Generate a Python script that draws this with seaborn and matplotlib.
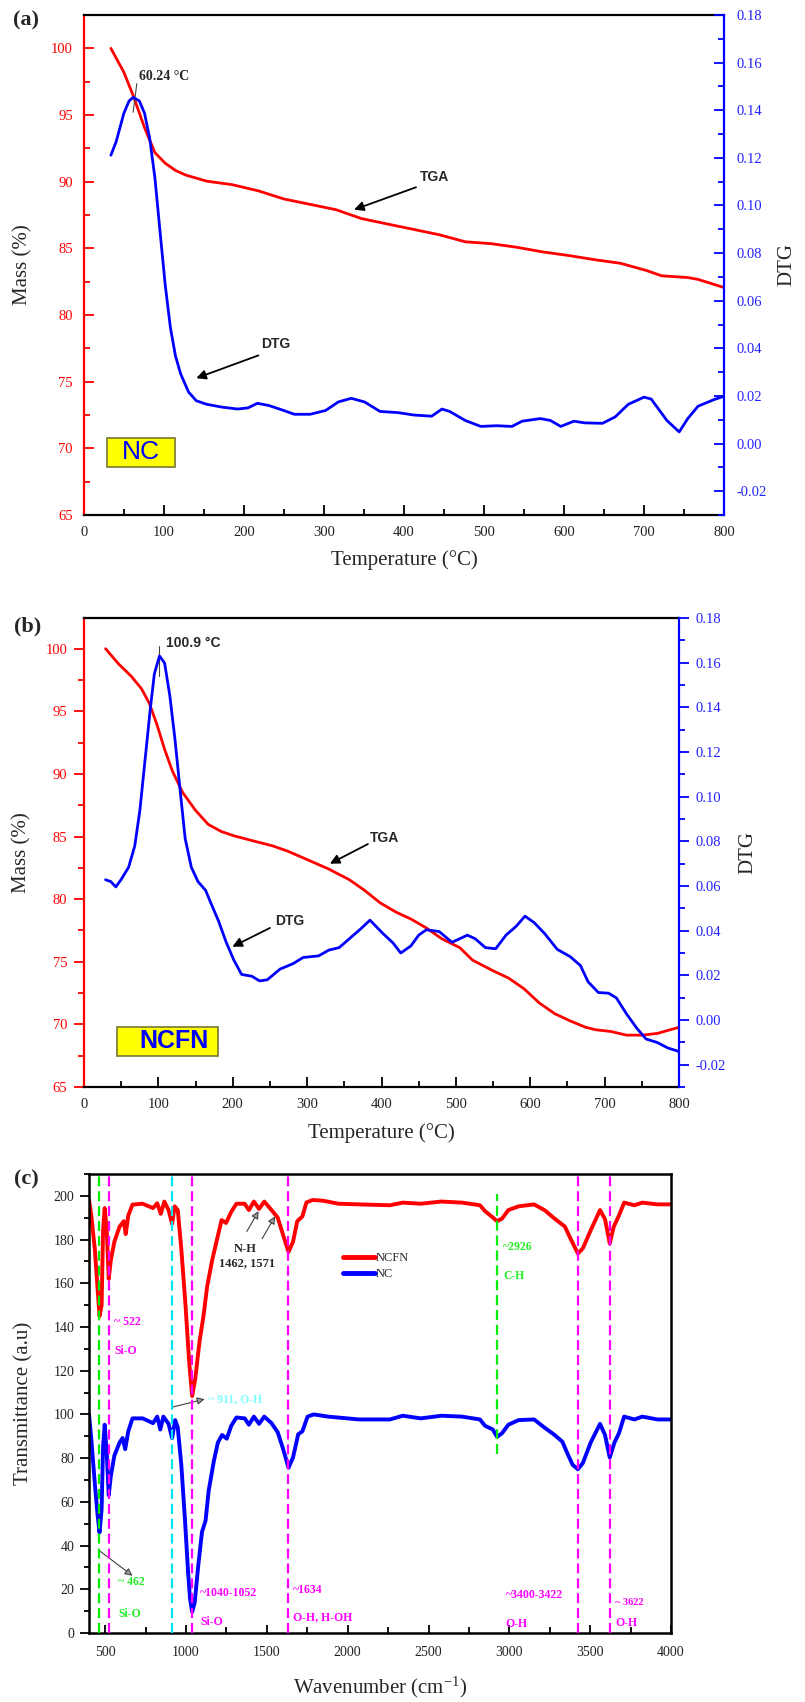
import matplotlib
matplotlib.use("Agg")
import matplotlib.pyplot as plt
import seaborn as sns
from matplotlib.ticker import MultipleLocator, FormatStrFormatter
from matplotlib.patches import Rectangle

# ---------------- data: panel (a) NC ----------------
a_temp_tga = [33.6, 49.8, 61.4, 75.7, 88.6, 101.5, 114.4, 127.4, 153.3, 185.6, 218, 250, 282.5, 314.8,
              347, 379.6, 412, 444, 476.6, 509, 541, 573.5, 606, 638, 670.5, 703, 722, 754.7, 767.6, 800]
a_mass_tga = [100, 98.21, 96.47, 94.05, 92.18, 91.38, 90.84, 90.49, 90.04, 89.77, 89.31, 88.70, 88.30, 87.90,
              87.23, 86.82, 86.42, 86.02, 85.49, 85.35, 85.08, 84.73, 84.46, 84.15, 83.88, 83.34, 82.94, 82.81,
              82.67, 82.06]
a_temp_dtg = [33.6, 40.1, 49.8, 56.3, 61.4, 69.2, 75.7, 82.1, 88.6, 95.0, 101.5, 108.0, 114.4, 120.9, 130.6,
              140.3, 153.3, 172.7, 192.0, 205.0, 216.7, 231.0, 247.0, 263.0, 282.6, 302.0, 318.0, 334.0, 350.6,
              370.0, 392.6, 412.0, 434.6, 447.5, 457.0, 476.6, 496.0, 515.5, 535.0, 547.6, 570.4, 583.0, 596.0,
              612.4, 625.4, 648.0, 664.0, 680.4, 700.0, 709.0, 728.6, 744.0, 754.7, 767.6, 787.0, 800.0]
a_dtg = [0.1211, 0.1267, 0.1387, 0.1439, 0.1454, 0.1439, 0.1387, 0.1282, 0.1117, 0.0892, 0.0667, 0.0487,
         0.0367, 0.0292, 0.0217, 0.0180, 0.0165, 0.0153, 0.0145, 0.0150, 0.0169, 0.0160, 0.0142, 0.0123,
         0.0123, 0.0139, 0.0175, 0.0190, 0.0175, 0.0135, 0.0130, 0.0120, 0.0115, 0.0145, 0.0135, 0.0097,
         0.0072, 0.0075, 0.0072, 0.0094, 0.0105, 0.0097, 0.0072, 0.0094, 0.0087, 0.0085, 0.0112, 0.0165,
         0.0195, 0.0187, 0.0097, 0.0049, 0.0105, 0.0157, 0.0184, 0.0199]

# ---------------- data: panel (b) NCFN ----------------
b_temp_tga = [29.0, 46.2, 63.5, 77.3, 87.7, 98.0, 108.4, 118.7, 132.5, 149.8, 167.0, 184.6, 201.5, 225.7,
              253.3, 274.0, 301.6, 329.2, 356.8, 377.5, 398.3, 419.0, 439.6, 460.3, 481.0, 505.2, 522.4, 550.0,
              570.8, 591.5, 612.2, 633.0, 653.6, 674.4, 688.0, 708.8, 729.5, 750.3, 771.0, 800.0]
b_mass_tga = [100.0, 98.8, 97.8, 96.8, 95.66, 93.95, 91.96, 90.25, 88.53, 87.1, 85.97, 85.4, 85.06, 84.68,
              84.26, 83.83, 83.12, 82.4, 81.55, 80.69, 79.7, 78.98, 78.41, 77.7, 76.84, 76.13, 75.13, 74.28,
              73.7, 72.85, 71.71, 70.85, 70.28, 69.77, 69.57, 69.43, 69.14, 69.14, 69.28, 69.77]
b_temp_dtg = [29.0, 35.9, 42.8, 49.7, 60.0, 68.3, 75.2, 82.1, 89.0, 94.6, 101.5, 108.4, 115.3, 122.2, 129.0,
              136.0, 144.3, 153.2, 163.6, 170.5, 180.8, 191.2, 201.5, 211.9, 225.7, 236.0, 246.4, 263.6, 280.9,
              294.7, 315.4, 329.2, 343.0, 356.8, 370.7, 384.5, 401.7, 415.5, 425.9, 439.6, 450.0, 460.3, 477.6,
              494.8, 505.2, 515.5, 525.9, 539.7, 553.5, 567.4, 581.2, 592.9, 605.3, 619.1, 636.4, 653.6, 667.4,
              677.8, 691.6, 705.4, 715.8, 729.5, 743.3, 755.7, 771.0, 784.8, 800.0]
b_dtg = [0.0628, 0.0620, 0.0596, 0.0628, 0.0684, 0.0780, 0.0941, 0.1165, 0.1389, 0.1550, 0.1630, 0.1598,
         0.1454, 0.1261, 0.1037, 0.0813, 0.0684, 0.0620, 0.0580, 0.0524, 0.0444, 0.0348, 0.0268, 0.0204,
         0.0196, 0.0175, 0.0180, 0.0228, 0.0252, 0.0280, 0.0287, 0.0313, 0.0324, 0.0364, 0.0404, 0.0447,
         0.0388, 0.0345, 0.0300, 0.0332, 0.0380, 0.0404, 0.0396, 0.0348, 0.0364, 0.0380, 0.0364, 0.0324,
         0.0319, 0.0380, 0.0420, 0.0465, 0.0436, 0.0388, 0.0316, 0.0284, 0.0244, 0.0171, 0.0123, 0.0120,
         0.0099, 0.0027, -0.0037, -0.0085, -0.0101, -0.0125, -0.0141]

# ---------------- data: panel (c) FTIR ----------------
c_wn_ncfn = [400, 414, 436, 452, 465, 478, 487, 497, 510, 522, 535, 557, 589, 615, 627, 643, 669, 732, 796, 822,
             844, 866, 892, 914, 930, 949, 971, 997, 1019, 1038, 1057, 1083, 1108, 1131, 1162, 1194, 1220, 1248,
             1280, 1312, 1363, 1389, 1420, 1452, 1484, 1529, 1567, 1599, 1634, 1662, 1688, 1720, 1745, 1783,
             1847, 1943, 2070, 2261, 2341, 2452, 2580, 2707, 2818, 2850, 2898, 2924, 2955, 2994, 3057, 3153,
             3217, 3280, 3344, 3376, 3424, 3455, 3503, 3561, 3592, 3621, 3646, 3678, 3710, 3774, 3822, 3917, 4000]
c_tr_ncfn = [198.1, 191.0, 175.7, 158.6, 145.0, 150.0, 184.0, 194.4, 184.0, 162.0, 170.6, 179.0, 185.9, 188.4,
             182.5, 191.0, 196.0, 196.4, 194.4, 196.6, 191.8, 197.4, 193.5, 187.2, 195.2, 193.5, 175.7, 150.0,
             124.6, 108.4, 116.1, 133.1, 145.0, 158.6, 170.6, 180.8, 188.9, 187.6, 192.7, 196.4, 196.4, 193.5,
             197.4, 194.0, 197.4, 193.5, 190.1, 182.5, 174.3, 179.0, 188.4, 190.6, 197.0, 198.1, 197.8, 196.4,
             196.1, 195.7, 196.9, 196.4, 197.4, 196.9, 195.7, 193.0, 190.1, 188.4, 189.6, 193.5, 195.2, 196.1,
             193.5, 189.6, 185.9, 180.8, 173.6, 176.0, 184.2, 193.5, 189.3, 178.2, 185.9, 191.0, 196.9, 195.7,
             196.9, 196.1, 196.1]
c_wn_nc = [400, 414, 436, 452, 465, 478, 487, 497, 510, 522, 535, 557, 589, 608, 624, 643, 669, 732, 796, 822,
           841, 860, 892, 914, 933, 949, 971, 994, 1013, 1025, 1038, 1054, 1076, 1099, 1121, 1140, 1172, 1197,
           1223, 1252, 1280, 1312, 1363, 1389, 1420, 1452, 1484, 1529, 1567, 1599, 1634, 1662, 1694, 1720,
           1752, 1790, 1879, 2070, 2261, 2341, 2452, 2580, 2707, 2818, 2850, 2898, 2924, 2955, 2994, 3057,
           3153, 3217, 3280, 3328, 3360, 3392, 3424, 3455, 3503, 3561, 3592, 3621, 3650, 3678, 3710, 3774,
           3822, 3917, 4000]
c_tr_nc = [100.0, 88.9, 68.4, 54.8, 46.0, 56.5, 85.4, 95.3, 82.0, 63.0, 71.8, 81.2, 87.1, 89.2, 84.1, 92.3,
           98.2, 98.2, 96.0, 99.0, 93.1, 99.0, 95.7, 89.2, 97.4, 94.0, 76.9, 51.4, 27.6, 15.7, 9.7, 14.0, 31.0,
           46.3, 51.4, 65.0, 78.6, 87.1, 90.6, 88.9, 94.8, 98.6, 98.2, 95.3, 99.0, 95.7, 99.0, 96.0, 91.9, 84.6,
           75.6, 80.3, 90.9, 92.3, 99.0, 100.0, 99.0, 97.7, 97.7, 99.4, 98.2, 99.4, 99.0, 97.7, 94.8, 93.1,
           89.7, 91.4, 95.3, 97.4, 97.7, 94.0, 90.6, 87.5, 82.0, 76.9, 74.9, 77.8, 87.1, 95.7, 90.6, 80.3,
           87.1, 91.4, 99.0, 97.7, 99.0, 97.7, 97.7]

mass_ticks = [65, 70, 75, 80, 85, 90, 95, 100]
dtg_ticks = [-0.02, 0.00, 0.02, 0.04, 0.06, 0.08, 0.10, 0.12, 0.14, 0.16, 0.18]
temp_ticks = [0, 100, 200, 300, 400, 500, 600, 700, 800]
wn_ticks = [500, 1000, 1500, 2000, 2500, 3000, 3500, 4000]
tr_ticks = [0, 20, 40, 60, 80, 100, 120, 140, 160, 180, 200]
peak_lines = [462, 522, 911, 1040, 1634, 2926, 3422, 3622]
peak_kinds = ['g', 'm', 'c', 'm', 'm', 'g', 'm', 'm']

# ---------------- style ----------------
sns.set_style("ticks")
plt.rcParams['font.family'] = ['Liberation Serif', 'DejaVu Serif']
plt.rcParams['mathtext.fontset'] = 'custom'
plt.rcParams['mathtext.rm'] = 'Liberation Serif'
plt.rcParams['mathtext.it'] = 'Liberation Serif:italic'
plt.rcParams['axes.unicode_minus'] = False
SANS = ['Liberation Sans', 'DejaVu Sans']

RED = '#FF0000'
BLUE = '#0000FF'
MAG = '#FF00FF'
GRN = '#00EE00'
GRN_T = '#22EE22'
CYN = '#00E5EE'
CYN_T = '#80FFFF'
LINE_COL = {'g': GRN, 'm': MAG, 'c': CYN}

W, H = 805, 1702
fig = plt.figure(figsize=(W / 100, H / 100), dpi=100)


def rect(l, t, r, b):
    return [l / W, 1 - b / H, (r - l) / W, (b - t) / H]


def setup_tga(ax, ax2, left_dir, right_dir, right_pad, left_pad):
    ax.set_xlim(0, 800)
    ax.set_ylim(65, 102.5)
    ax2.set_ylim(-0.03, 0.18)
    ax.set_xticks(temp_ticks)
    ax.xaxis.set_minor_locator(MultipleLocator(50))
    ax.set_yticks(mass_ticks)
    ax.yaxis.set_minor_locator(MultipleLocator(2.5))
    ax2.set_yticks(dtg_ticks)
    ax2.yaxis.set_minor_locator(MultipleLocator(0.01))
    ax2.yaxis.set_major_formatter(FormatStrFormatter('%.2f'))
    for s in ['top', 'bottom']:
        ax.spines[s].set_color('black')
        ax.spines[s].set_linewidth(1.6)
        ax2.spines[s].set_visible(False)
    ax.spines['left'].set_color(RED)
    ax.spines['left'].set_linewidth(1.6)
    ax.spines['right'].set_visible(False)
    ax2.spines['left'].set_visible(False)
    ax2.spines['right'].set_color(BLUE)
    ax2.spines['right'].set_linewidth(1.6)
    ax.tick_params(axis='x', which='both', direction='in', color='black', labelcolor='#222222',
                   labelsize=10.5, pad=8, width=1.3, top=False)
    ax.tick_params(axis='x', which='major', length=7)
    ax.tick_params(axis='x', which='minor', length=4)
    ax.tick_params(axis='y', which='both', direction=left_dir, color=RED, labelcolor=RED,
                   labelsize=10.5, pad=left_pad, width=1.3, right=False)
    ax.tick_params(axis='y', which='major', length=7)
    ax.tick_params(axis='y', which='minor', length=4)
    ax2.tick_params(axis='y', which='both', direction=right_dir, color=BLUE, labelcolor='#2222FF',
                    labelsize=10.5, pad=right_pad, width=1.3, left=False)
    ax2.tick_params(axis='y', which='major', length=7)
    ax2.tick_params(axis='y', which='minor', length=4)
    for t in ax.get_xticklabels() + ax.get_yticklabels() + ax2.get_yticklabels():
        t.set_fontfamily(['Liberation Serif', 'DejaVu Serif'])


def arrow(ax, tail, head, **kw):
    props = dict(arrowstyle='-|>', color='black', lw=1.3, mutation_scale=14, shrinkA=0, shrinkB=0)
    props.update(kw)
    ax.annotate('', xy=head, xytext=tail, arrowprops=props)


# ================= panel (a) =================
axa = fig.add_axes(rect(84, 15, 724, 515))
axa2 = axa.twinx()
sns.lineplot(x=a_temp_tga, y=a_mass_tga, ax=axa, color=RED, lw=2.0, sort=False, estimator=None)
sns.lineplot(x=a_temp_dtg, y=a_dtg, ax=axa2, color=BLUE, lw=2.0, sort=False, estimator=None)
setup_tga(axa, axa2, 'in', 'in', 9, 8)
axa.set_xlabel('Temperature (°C)', fontsize=15, va='center')
axa.xaxis.set_label_coords(0.5, -0.09)
axa.set_ylabel('Mass (%)', fontsize=15, va='center')
axa.yaxis.set_label_coords(-0.095, 0.5)
axa2.set_ylabel('DTG', fontsize=15, va='center', rotation=90)
axa2.yaxis.set_label_coords(1.098, 0.5)
# annotations
axa.plot([61.4, 66.0], [95.2, 97.35], color='#444444', lw=0.8)
axa.text(69.2, 97.86, '60.24 °C', fontsize=10, fontweight='bold', va='center', ha='left')
axa.text(437.8, 90.36, 'TGA', fontsize=10, fontweight='bold', va='center', ha='center', family=SANS)
arrow(axa, (415, 89.58), (337.6, 87.9))
axa.text(239.3, 77.85, 'DTG', fontsize=10, fontweight='bold', va='center', ha='center', family=SANS)
arrow(axa, (218, 76.97), (140.3, 75.26))
axa.add_patch(Rectangle((28.5, 68.62), 85.3, 2.14, facecolor='#FFFF00', edgecolor='#777733', lw=1.2, zorder=5))
axa.text(71.2, 69.7, 'NC', fontsize=19, color=BLUE, va='center', ha='center', family=SANS, zorder=6)

# ================= panel (b) =================
axb = fig.add_axes(rect(84, 618, 679, 1087))
axb2 = axb.twinx()
sns.lineplot(x=b_temp_tga, y=b_mass_tga, ax=axb, color=RED, lw=2.0, sort=False, estimator=None)
sns.lineplot(x=b_temp_dtg, y=b_dtg, ax=axb2, color=BLUE, lw=2.0, sort=False, estimator=None)
setup_tga(axb, axb2, 'out', 'out', 5, 5)
axb.set_ylim(65, 102.45)
axb.set_xlabel('Temperature (°C)', fontsize=15, va='center')
axb.xaxis.set_label_coords(0.5, -0.098)
axb.set_ylabel('Mass (%)', fontsize=15, va='center')
axb.yaxis.set_label_coords(-0.104, 0.5)
axb2.set_ylabel('DTG', fontsize=15, va='center', rotation=90)
axb2.yaxis.set_label_coords(1.116, 0.5)
axb.plot([101.5, 101.5], [97.8, 100.2], color='#444444', lw=0.8)
axb.text(109.8, 100.46, '100.9 °C', fontsize=10, fontweight='bold', va='center', ha='left', family=SANS)
axb.text(403.9, 84.9, 'TGA', fontsize=10, fontweight='bold', va='center', ha='center', family=SANS)
arrow(axb, (381.7, 84.4), (330.6, 82.83))
axb.text(276, 78.27, 'DTG', fontsize=10, fontweight='bold', va='center', ha='center', family=SANS)
arrow(axb, (250, 77.7), (199.5, 76.2))
axb.add_patch(Rectangle((44.2, 67.5), 135.3, 2.3, facecolor='#FFFF00', edgecolor='#777733', lw=1.2, zorder=5))
axb.text(121.5, 68.65, 'NCFN', fontsize=18, fontweight='bold', color=BLUE, va='center', ha='center',
         family=SANS, zorder=6)

# ================= panel (c) =================
axc = fig.add_axes(rect(89, 1174, 671, 1633))
sns.lineplot(x=c_wn_ncfn, y=c_tr_ncfn, ax=axc, color=RED, lw=2.8, sort=False, estimator=None, label='NCFN')
sns.lineplot(x=c_wn_nc, y=c_tr_nc, ax=axc, color=BLUE, lw=2.8, sort=False, estimator=None, label='NC')
axc.set_xlim(400, 4000)
axc.set_ylim(0, 210)
axc.set_xticks(wn_ticks)
axc.xaxis.set_minor_locator(MultipleLocator(250))
axc.set_yticks(tr_ticks)
axc.yaxis.set_minor_locator(MultipleLocator(10))
for s in axc.spines.values():
    s.set_color('black')
    s.set_linewidth(1.8)
axc.tick_params(axis='x', which='both', direction='in', color='black', labelcolor='#222222',
                labelsize=10, pad=9, width=1.3, top=False)
axc.tick_params(axis='x', which='major', length=6)
axc.tick_params(axis='x', which='minor', length=4)
axc.tick_params(axis='y', which='both', direction='out', color='black', labelcolor='#222222',
                labelsize=10, pad=4, width=1.3, right=False)
axc.tick_params(axis='y', which='major', length=6.5)
axc.tick_params(axis='y', which='minor', length=3.5)
axc.set_xlabel('Wavenumber (cm$^{\\mathrm{-1}}$)', fontsize=15, va='center')
axc.xaxis.set_label_coords(0.5, -0.118)
axc.set_ylabel('Transmittance (a.u)', fontsize=15, va='center')
axc.yaxis.set_label_coords(-0.112, 0.5)

for wn, kind in zip(peak_lines, peak_kinds):
    if wn == 2926:
        axc.axvline(wn, ymin=82 / 210, ymax=201 / 210, color=LINE_COL[kind], lw=1.6,
                    dashes=(4.5, 2.2), zorder=4)
    else:
        axc.axvline(wn, color=LINE_COL[kind], lw=1.6, dashes=(4.5, 2.2), zorder=4)

leg = axc.legend(loc='upper left', bbox_to_anchor=(0.436, 0.83), frameon=False, fontsize=9,
                 handlelength=2.6, handletextpad=0.05, labelspacing=0.35, borderpad=0, borderaxespad=0)
for h in leg.get_lines():
    h.set_linewidth(3.5)

ann = [
    ('~ 522', 557, 142.3, MAG), ('Si-O', 557, 128.9, MAG),
    ('~ 911, O-H', 1135, 107.2, CYN_T),
    ('~2926', 2962, 176.5, GRN_T), ('C-H', 2962, 163.2, GRN_T),
    ('~ 462', 580, 23.3, GRN_T), ('Si-O', 580, 8.9, GRN_T),
    ('~1040-1052', 1089, 18.4, MAG), ('Si-O', 1089, 5.1, MAG),
    ('~1634', 1662, 19.7, MAG), ('O-H, H-OH', 1662, 7.1, MAG),
    ('~3400-3422', 2978, 17.4, MAG), ('O-H', 2978, 4.3, MAG),
    ('~ 3622', 3656, 13.8, MAG), ('O-H', 3656, 4.6, MAG),
]
for txt, x, y, col in ann:
    axc.text(x, y, txt, color=col, fontsize=8.5 if txt != '~ 3622' else 7.5, fontweight='bold',
             ha='left', va='center', zorder=6)
axc.text(1369, 175.7, 'N-H', fontsize=9, fontweight='bold', ha='center', va='center')
axc.text(1376, 169.2, '1462, 1571', fontsize=9, fontweight='bold', ha='center', va='center')
gray = dict(ec='#404040', fc='#A0A0A0', lw=0.8, mutation_scale=11)
arrow(axc, (914, 103.3), (1115, 107.0), **gray)
arrow(axc, (462, 37.8), (669, 26.2), **gray)
arrow(axc, (1376, 183.7), (1449, 193.0), **gray)
arrow(axc, (1471, 180.4), (1551, 190.6), **gray)

# panel letters
for lab, x, y in [('(a)', 26, 20), ('(b)', 28, 626), ('(c)', 26, 1179)]:
    fig.text(x / W, 1 - y / H, lab, fontsize=16, fontweight='bold', ha='center', va='center')

fig.savefig('out.png', dpi=100)
